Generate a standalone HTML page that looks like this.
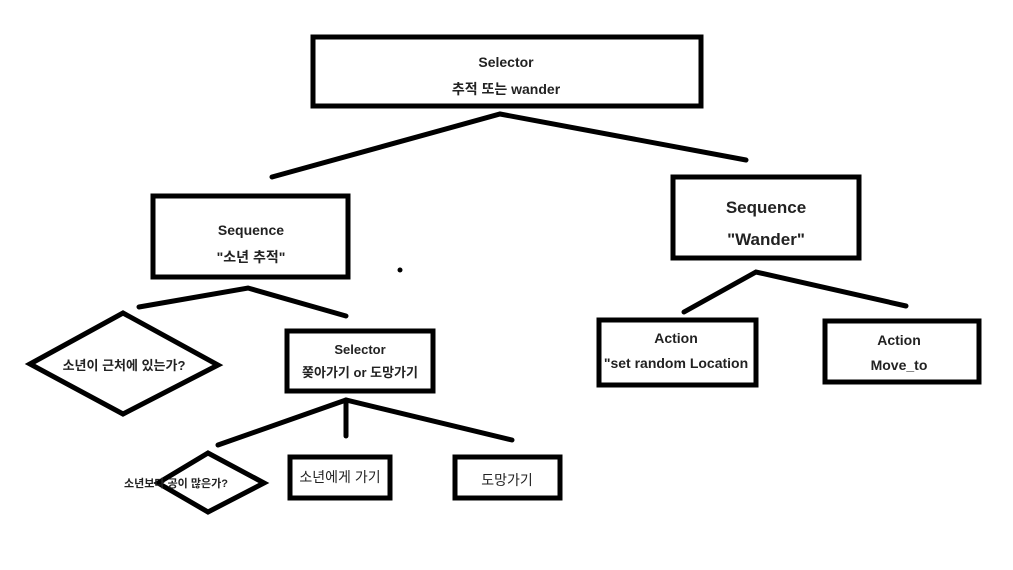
<!DOCTYPE html>
<html><head><meta charset="utf-8"><style>
html,body{margin:0;padding:0;background:#fff;}
svg{display:block;}
text{font-family:"Liberation Sans","Noto Sans CJK KR",sans-serif;fill:#222;text-anchor:middle;}
.b{font-weight:bold;}
</style></head><body>
<svg width="1013" height="570" viewBox="0 0 1013 570">
<g fill="none" stroke="#000" stroke-width="5">
<rect x="313" y="37" width="388" height="69"/>
<rect x="153" y="196" width="195" height="81"/>
<rect x="673" y="177" width="186" height="81"/>
<rect x="287" y="331" width="146" height="60"/>
<rect x="290" y="457" width="100" height="41"/>
<rect x="455" y="457" width="105" height="41"/>
<rect x="599" y="320" width="157" height="65"/>
<rect x="825" y="321" width="154" height="61"/>
<polygon points="30,364 123,313 218,365 123,414"/>
<polygon points="158,483 208,453 264,483 208,512"/>
</g>
<g fill="none" stroke="#000" stroke-width="5" stroke-linecap="round">
<polyline points="272,177 500,114 746,160"/>
<polyline points="139,307 248,288 346,316"/>
<polyline points="218,445 346,400 512,440"/>
<line x1="346" y1="400" x2="346" y2="436"/>
<polyline points="684,312 756,272 906,306"/>
</g>
<circle cx="400" cy="270" r="2.5" fill="#000"/>
<text class="b" x="506" y="67" font-size="14">Selector</text>
<text class="b" x="506" y="94" font-size="14">추적 또는 wander</text>
<text class="b" x="251" y="235" font-size="14">Sequence</text>
<text class="b" x="251" y="262" font-size="14">"소년 추적"</text>
<text class="b" x="766" y="213" font-size="17">Sequence</text>
<text class="b" x="766" y="245" font-size="17">"Wander"</text>
<text class="b" x="360" y="354" font-size="13">Selector</text>
<text class="b" x="360" y="377" font-size="13">쫒아가기 or 도망가기</text>
<text class="b" x="124" y="370" font-size="13">소년이 근처에 있는가?</text>
<text class="b" x="176" y="487" font-size="11">소년보다 공이 많은가?</text>
<text x="340" y="482" font-size="14">소년에게 가기</text>
<text x="507" y="485" font-size="14">도망가기</text>
<text class="b" x="676" y="343" font-size="14">Action</text>
<text class="b" x="676" y="368" font-size="14">"set random Location</text>
<text class="b" x="899" y="345" font-size="14">Action</text>
<text class="b" x="899" y="370" font-size="14">Move_to</text>
</svg>
</body></html>
